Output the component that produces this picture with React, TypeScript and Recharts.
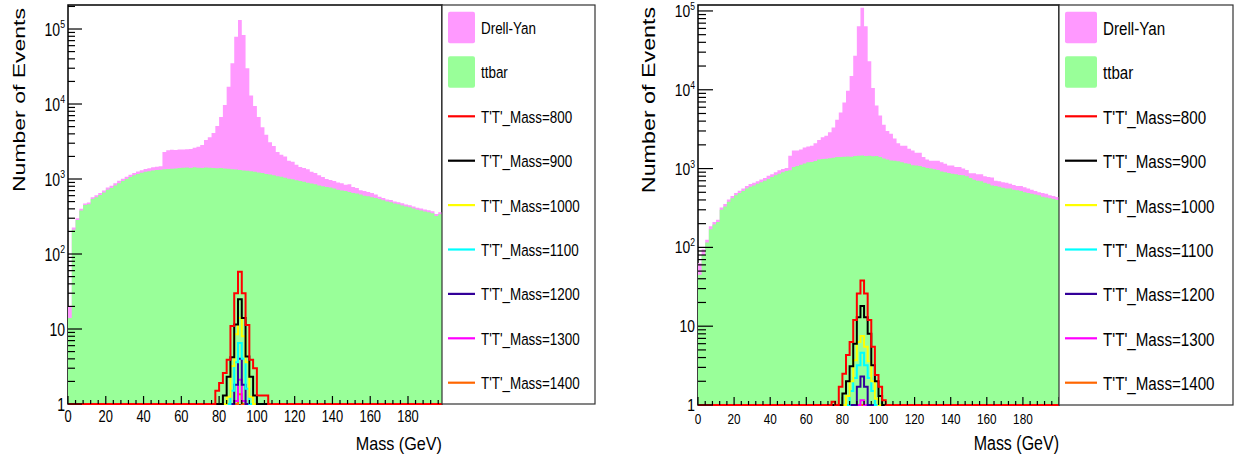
import React from 'react';
import { ComposedChart, Area, Line, XAxis, YAxis, ReferenceArea } from 'recharts';

const PAGE_W = 1243;
const PAGE_H = 461;
const BIN_WIDTH = 2; // GeV per bin
const FONT = "'Liberation Sans', Arial, Helvetica, sans-serif";

const DRELL_YAN_COLOR = '#ff99ff';
const TTBAR_COLOR = '#99ff99';
const MASS_POINTS = [800, 900, 1000, 1100, 1200, 1300, 1400];
const SIGNAL_COLORS = ['#ff0000', '#000000', '#ffff00', '#00ffff', '#330099', '#ff00ff', '#ff6600'];

const Y_DECADES = [1, 10, 100, 1000, 10000, 100000];
const X_LABELS = [0, 20, 40, 60, 80, 100, 120, 140, 160, 180];
const X_MINOR_STEP = 4;

// ---- left plot: background counts per 2 GeV bin ----
const LEFT_TTBAR = [
  14, 210, 285, 380, 450, 460, 540, 570, 610, 660,
  720, 760, 820, 880, 940, 1000, 1060, 1120, 1170, 1210,
  1250, 1270, 1300, 1320, 1330, 1350, 1360, 1370, 1380, 1400,
  1410, 1420, 1400, 1430, 1410, 1400, 1420, 1410, 1400, 1390,
  1400, 1380, 1370, 1350, 1340, 1320, 1300, 1290, 1270, 1250,
  1220, 1200, 1170, 1150, 1120, 1090, 1070, 1040, 1010, 990,
  960, 940, 920, 890, 870, 850, 820, 800, 780, 770,
  750, 720, 700, 690, 670, 650, 640, 620, 600, 590,
  570, 560, 540, 520, 500, 490, 470, 460, 445, 430,
  420, 405, 390, 380, 370, 360, 350, 320, 340, 325,
];
const LEFT_DRELL_YAN = [
  6, 15, 15, 20, 20, 25, 30, 35, 40, 45,
  50, 55, 60, 65, 70, 75, 80, 85, 90, 100,
  110, 120, 130, 140, 150, 940, 1060, 1080, 1050, 1070,
  1070, 1080, 1120, 1190, 1290, 1450, 1880, 2190, 2700, 3710,
  5300, 8320, 15630, 33650, 77660, 130680, 81700, 28710, 11730, 8150,
  5480, 3700, 2730, 1950, 1630, 1210, 1030, 960, 740, 710,
  590, 510, 480, 460, 380, 350, 300, 260, 220, 200,
  190, 180, 180, 150, 180, 130, 120, 90, 90, 80,
  80, 60, 40, 40, 35, 35, 30, 30, 30, 28,
  27, 26, 25, 24, 23, 22, 21, 22, 20, 19,
];
// signal counts, bins from 76 GeV to 108 GeV
const LEFT_SIGNAL_START = 76;
const LEFT_SIG_800 = [0, 1.5, 1.9, 2.6, 3.9, 11, 30, 58, 30, 11.3, 3.9, 3.0, 1.3, 1.3, 1.3, 0];
const LEFT_SIG_900 = [0, 0, 0, 1.3, 2.3, 4.2, 11.5, 25, 14, 4.3, 2.3, 1.3, 0, 0, 0, 0];
const LEFT_SIG_1000 = [0, 0, 0, 0, 1.25, 3.2, 8.5, 14, 8, 3.6, 1.25, 0, 0, 0, 0, 0];
const LEFT_SIG_1100 = [0, 0, 0, 0, 0, 1.5, 3.6, 6.5, 4, 1.6, 0, 0, 0, 0, 0, 0];
const LEFT_SIG_1200 = [0, 0, 0, 0, 0, 0, 1.8, 4, 1.8, 0, 0, 0, 0, 0, 0, 0];
const LEFT_SIG_1300 = [0, 0, 0, 0, 0, 0, 1.1, 2.1, 1.1, 0, 0, 0, 0, 0, 0, 0];
const LEFT_SIG_1400 = [0, 0, 0, 0, 0, 0, 0, 1.35, 0, 0, 0, 0, 0, 0, 0, 0];

// ---- right plot ----
const RIGHT_TTBAR = [
  45, 80, 115, 170, 195, 210, 300, 330, 380, 420,
  460, 490, 520, 560, 590, 610, 640, 670, 700, 740,
  780, 820, 860, 900, 930, 950, 1050, 1080, 1120, 1160,
  1200, 1210, 1250, 1300, 1320, 1330, 1350, 1370, 1400, 1400,
  1410, 1420, 1410, 1440, 1450, 1460, 1440, 1450, 1430, 1440,
  1400, 1340, 1300, 1270, 1260, 1240, 1200, 1170, 1150, 1100,
  1090, 1080, 1050, 1020, 1000, 980, 960, 920, 900, 880,
  860, 850, 830, 820, 800, 760, 720, 700, 690, 660,
  640, 610, 600, 590, 570, 560, 560, 540, 530, 520,
  500, 490, 480, 470, 460, 440, 430, 420, 410, 400,
];
const RIGHT_DRELL_YAN = [
  18, 15, 10, 15, 15, 15, 20, 25, 25, 30,
  30, 35, 40, 40, 45, 50, 50, 55, 60, 70,
  70, 80, 90, 90, 90, 500, 650, 620, 630, 690,
  700, 740, 850, 1000, 1180, 1270, 1530, 1950, 2750, 3750,
  5490, 8280, 13590, 25560, 62550, 108540, 62560, 21550, 9070, 4860,
  3300, 2260, 1700, 1490, 1140, 850, 750, 780, 640, 600,
  500, 510, 350, 280, 260, 280, 300, 280, 250, 210,
  230, 200, 220, 180, 160, 110, 150, 150, 160, 140,
  140, 160, 100, 100, 100, 100, 80, 80, 70, 80,
  80, 70, 60, 50, 40, 50, 50, 40, 40, 35,
];
// signal counts, bins from 74 GeV to 106 GeV
const RIGHT_SIGNAL_START = 74;
const RIGHT_SIG_800 = [1.1, 0, 1.7, 2.5, 4.3, 6.3, 12, 26, 38, 26, 12, 5.5, 2.4, 1.7, 1.15, 0];
const RIGHT_SIG_900 = [0, 0, 0, 1.4, 2.0, 3.1, 6.0, 13, 18, 13, 8, 3.2, 2.0, 1.3, 0, 0];
const RIGHT_SIG_1000 = [0, 0, 0, 0, 1.3, 2.0, 3.7, 6.3, 7.5, 5.5, 3.6, 2.0, 1.2, 0, 0, 0];
const RIGHT_SIG_1100 = [0, 0, 0, 0, 0, 1.5, 2.2, 3.2, 4.6, 3.2, 2.2, 1.5, 0, 0, 0, 0];
const RIGHT_SIG_1200 = [0, 0, 0, 0, 0, 0, 0, 1.7, 2.3, 1.7, 0, 0, 0, 0, 0, 0];
const RIGHT_SIG_1300 = [0, 0, 0, 0, 0, 0, 0, 0, 1.15, 0, 0, 0, 0, 0, 0, 0];
const RIGHT_SIG_1400 = [0, 0, 0, 0, 0, 0, 0, 0, 0, 0, 0, 0, 0, 0, 0, 0];

const LEGEND_NAMES = ['Drell-Yan', 'ttbar', ...MASS_POINTS.map((m) => `T'T'_Mass=${m}`)];

type PanelLayout = {
  left: number;
  width: number;
  plotLeft: number;
  plotRight: number;
  plotTop: number;
  plotBottom: number;
  xMax: number;
  yMax: number;
  yMajorLen: number;
  yMinorLen: number;
  xMajorLen: number;
  xMinorLen: number;
  yFont: number;
  yScale: number;
  yLabelDy: number;
  xFont: number;
  xScale: number;
  xLabelDy: number;
};

type LegendLayout = {
  boxLeft: number;
  boxRight: number;
  boxTop: number;
  boxBottom: number;
  rowStart: number;
  rowStep: number;
  swatchX: number;
  swatchW: number;
  swatchH: number;
  textX: number;
  font: number;
  scale: number;
  textDy: number;
};

const Y_AXIS_W = 60;
const X_AXIS_H = 30;

const LEFT_PANEL: PanelLayout = {
  left: 0, width: 600,
  plotLeft: 68, plotRight: 442, plotTop: 5, plotBottom: 404,
  xMax: 198, yMax: 2.09e5,
  yMajorLen: 14, yMinorLen: 7, xMajorLen: 8, xMinorLen: 4,
  yFont: 18, yScale: 0.78, yLabelDy: 6.5,
  xFont: 17, xScale: 0.76, xLabelDy: 18,
};
const RIGHT_PANEL: PanelLayout = {
  left: 620, width: 623,
  plotLeft: 78, plotRight: 439, plotTop: 5, plotBottom: 405,
  xMax: 200, yMax: 1.19e5,
  yMajorLen: 15, yMinorLen: 8, xMajorLen: 8, xMinorLen: 4,
  yFont: 16.5, yScale: 0.84, yLabelDy: 6,
  xFont: 15.5, xScale: 0.76, xLabelDy: 19,
};

const LEFT_LEGEND: LegendLayout = {
  boxLeft: 442, boxRight: 595, boxTop: 5, boxBottom: 404,
  rowStart: 27.5, rowStep: 44.4,
  swatchX: 448, swatchW: 27, swatchH: 31.5,
  textX: 481, font: 17, scale: 0.79, textDy: 6.5,
};
const RIGHT_LEGEND: LegendLayout = {
  boxLeft: 1059, boxRight: 1233, boxTop: 5, boxBottom: 405,
  rowStart: 27.5, rowStep: 44.4,
  swatchX: 1065, swatchW: 32, swatchH: 31.5,
  textX: 1103, font: 18.5, scale: 0.82, textDy: 7.5,
};

type Row = { [key: string]: number };

function buildRows(
  ttbar: number[],
  drellYan: number[],
  signalStart: number,
  signals: number[][],
  xMax: number,
  floor: number,
): Row[] {
  const nBins = Math.round(xMax / BIN_WIDTH);
  const rows: Row[] = [];
  for (let k = 0; k <= nBins; k++) {
    const i = Math.min(k, nBins - 1);
    const row: Row = {
      x: k * BIN_WIDTH,
      ttbar: ttbar[i],
      total: ttbar[i] + drellYan[i],
    };
    signals.forEach((s, j) => {
      const si = (i * BIN_WIDTH - signalStart) / BIN_WIDTH;
      const v = si >= 0 && si < s.length ? s[si] : 0;
      // empty bins sit on the lower edge of the log axis
      row[`s${j}`] = Math.max(v, floor);
    });
    rows.push(row);
  }
  return rows;
}

function yTicksFor(yMax: number): number[] {
  const out: number[] = [];
  Y_DECADES.forEach((d) => {
    for (let m = 1; m <= 9; m++) {
      if (m * d <= yMax) out.push(m * d);
    }
  });
  return out;
}

function xTicksFor(xMax: number): number[] {
  const out: number[] = [];
  for (let v = 0; v <= xMax; v += X_MINOR_STEP) out.push(v);
  return out;
}

function makeYTick(p: PanelLayout) {
  return (props: any) => {
    const { y, payload } = props;
    const v = payload.value as number;
    const exp = Math.round(Math.log10(v));
    const major = Math.abs(v - Math.pow(10, exp)) < 1e-9 * v;
    const len = major ? p.yMajorLen : p.yMinorLen;
    return (
      <g>
        <line x1={p.plotLeft} x2={p.plotLeft + len} y1={y} y2={y} stroke="#000" strokeWidth={1.2} />
        {major && (
          <text
            transform={`translate(${p.plotLeft - 3},${y + p.yLabelDy}) scale(${p.yScale},1)`}
            textAnchor="end"
            fontFamily={FONT}
            fontSize={p.yFont}
            fill="#000"
          >
            {exp === 0 ? (
              '1'
            ) : exp === 1 ? (
              '10'
            ) : (
              <>
                <tspan>10</tspan>
                <tspan dy={-p.yFont * 0.42} fontSize={p.yFont * 0.62}>
                  {exp}
                </tspan>
              </>
            )}
          </text>
        )}
      </g>
    );
  };
}

function makeXTick(p: PanelLayout) {
  return (props: any) => {
    const { x, payload } = props;
    const v = payload.value as number;
    const major = v % 20 === 0;
    const len = major ? p.xMajorLen : p.xMinorLen;
    return (
      <g>
        <line x1={x} x2={x} y1={p.plotBottom} y2={p.plotBottom - len} stroke="#000" strokeWidth={1.2} />
        {X_LABELS.includes(v) && (
          <text
            transform={`translate(${x},${p.plotBottom + p.xLabelDy}) scale(${p.xScale},1)`}
            textAnchor="middle"
            fontFamily={FONT}
            fontSize={p.xFont}
            fill="#000"
          >
            {v}
          </text>
        )}
      </g>
    );
  };
}

function HistPanel({ p, rows }: { p: PanelLayout; rows: Row[] }) {
  // signal outlines are drawn heaviest-mass first so the 800 GeV one stays on top
  const drawOrder = MASS_POINTS.map((m, j) => ({ m, j })).reverse();
  return (
    <div style={{ position: 'absolute', left: p.left, top: 0, width: p.width, height: PAGE_H }}>
      <ComposedChart
        width={p.width}
        height={PAGE_H}
        data={rows}
        margin={{
          top: p.plotTop,
          right: p.width - p.plotRight,
          bottom: PAGE_H - p.plotBottom - X_AXIS_H,
          left: p.plotLeft - Y_AXIS_W,
        }}
      >
        <ReferenceArea
          x1={0}
          x2={p.xMax}
          y1={1}
          y2={p.yMax}
          fill="none"
          fillOpacity={0}
          stroke="#000"
          strokeWidth={1.5}
          ifOverflow="visible"
        />
        <Area
          dataKey="total"
          name="Drell-Yan"
          type="stepAfter"
          fill={DRELL_YAN_COLOR}
          fillOpacity={1}
          stroke="none"
          isAnimationActive={false}
        />
        <Area
          dataKey="ttbar"
          name="ttbar"
          type="stepAfter"
          fill={TTBAR_COLOR}
          fillOpacity={1}
          stroke="none"
          isAnimationActive={false}
        />
        {drawOrder.map(({ m, j }) => (
          <Line
            key={m}
            dataKey={`s${j}`}
            name={`T'T'_Mass=${m}`}
            type="stepAfter"
            stroke={SIGNAL_COLORS[j]}
            strokeWidth={2}
            dot={false}
            activeDot={false}
            isAnimationActive={false}
          />
        ))}
        <XAxis
          dataKey="x"
          type="number"
          domain={[0, p.xMax]}
          ticks={xTicksFor(p.xMax)}
          interval={0}
          tick={makeXTick(p)}
          tickLine={false}
          axisLine={false}
          height={X_AXIS_H}
        />
        <YAxis
          type="number"
          scale="log"
          domain={[1, p.yMax]}
          ticks={yTicksFor(p.yMax)}
          interval={0}
          tick={makeYTick(p)}
          tickLine={false}
          axisLine={false}
          width={Y_AXIS_W}
        />
      </ComposedChart>
    </div>
  );
}

function LegendBox({ l }: { l: LegendLayout }) {
  return (
    <g>
      <rect
        x={l.boxLeft}
        y={l.boxTop}
        width={l.boxRight - l.boxLeft}
        height={l.boxBottom - l.boxTop}
        fill="#fff"
        stroke="#333"
        strokeWidth={1.2}
      />
      {LEGEND_NAMES.map((name, i) => {
        const cy = l.rowStart + i * l.rowStep;
        let mark: React.ReactNode;
        if (i < 2) {
          mark = (
            <rect
              x={l.swatchX}
              y={cy - l.swatchH / 2}
              width={l.swatchW}
              height={l.swatchH}
              rx={2}
              fill={i === 0 ? DRELL_YAN_COLOR : TTBAR_COLOR}
            />
          );
        } else {
          mark = (
            <line
              x1={l.swatchX}
              x2={l.swatchX + l.swatchW}
              y1={cy}
              y2={cy}
              stroke={SIGNAL_COLORS[i - 2]}
              strokeWidth={2.2}
            />
          );
        }
        return (
          <g key={name}>
            {mark}
            <text
              transform={`translate(${l.textX},${cy + l.textDy}) scale(${l.scale},1)`}
              fontFamily={FONT}
              fontSize={l.font}
              fill="#000"
            >
              {name}
            </text>
          </g>
        );
      })}
    </g>
  );
}

export default function App() {
  const leftRows = buildRows(
    LEFT_TTBAR,
    LEFT_DRELL_YAN,
    LEFT_SIGNAL_START,
    [LEFT_SIG_800, LEFT_SIG_900, LEFT_SIG_1000, LEFT_SIG_1100, LEFT_SIG_1200, LEFT_SIG_1300, LEFT_SIG_1400],
    LEFT_PANEL.xMax,
    1,
  );
  const rightRows = buildRows(
    RIGHT_TTBAR,
    RIGHT_DRELL_YAN,
    RIGHT_SIGNAL_START,
    [RIGHT_SIG_800, RIGHT_SIG_900, RIGHT_SIG_1000, RIGHT_SIG_1100, RIGHT_SIG_1200, RIGHT_SIG_1300, RIGHT_SIG_1400],
    RIGHT_PANEL.xMax,
    1,
  );

  return (
    <div
      style={{
        position: 'absolute',
        left: 0,
        top: 0,
        width: PAGE_W,
        height: PAGE_H,
        background: '#fff',
        overflow: 'hidden',
      }}
    >
      <HistPanel p={LEFT_PANEL} rows={leftRows} />
      <HistPanel p={RIGHT_PANEL} rows={rightRows} />
      <svg
        width={PAGE_W}
        height={PAGE_H}
        style={{ position: 'absolute', left: 0, top: 0, pointerEvents: 'none' }}
      >
        <LegendBox l={LEFT_LEGEND} />
        <LegendBox l={RIGHT_LEGEND} />
        <text
          transform="translate(25,100) rotate(-90) scale(1,0.73)"
          textAnchor="middle"
          fontFamily={FONT}
          fontSize={23}
          fill="#000"
        >
          Number of Events
        </text>
        <text
          transform="translate(655,100) rotate(-90) scale(1,0.78)"
          textAnchor="middle"
          fontFamily={FONT}
          fontSize={23.3}
          fill="#000"
        >
          Number of Events
        </text>
        <text
          transform="translate(442,450) scale(0.87,1)"
          textAnchor="end"
          fontFamily={FONT}
          fontSize={18.6}
          fill="#000"
        >
          Mass (GeV)
        </text>
        <text
          transform="translate(1059,449.5) scale(0.8,1)"
          textAnchor="end"
          fontFamily={FONT}
          fontSize={20}
          fill="#000"
        >
          Mass (GeV)
        </text>
      </svg>
    </div>
  );
}
